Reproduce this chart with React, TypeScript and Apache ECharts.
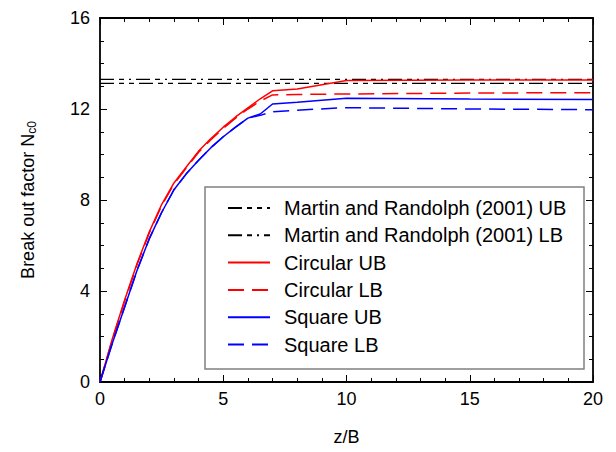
import React, { useEffect, useRef } from "react";
import * as echarts from "echarts";

const zB = [0, 0.5, 1, 1.5, 2, 2.5, 3, 3.5, 4, 4.5, 5, 5.5, 6, 6.5, 7, 8, 10, 15, 20];
const circularUB = [0, 1.9, 3.6, 5.2, 6.6, 7.8, 8.75, 9.45, 10.15, 10.7, 11.2, 11.65, 12.05, 12.45, 12.8, 12.88, 13.25, 13.27, 13.28];
const circularLB = [0, 1.85, 3.55, 5.15, 6.55, 7.75, 8.7, 9.4, 10.1, 10.65, 11.15, 11.6, 12.0, 12.35, 12.62, 12.64, 12.66, 12.7, 12.72];
const squareUB = [0, 1.7, 3.3, 4.9, 6.3, 7.45, 8.45, 9.15, 9.75, 10.3, 10.78, 11.2, 11.6, 11.78, 12.22, 12.3, 12.47, 12.44, 12.42];
const squareLB = [0, 1.7, 3.3, 4.9, 6.3, 7.45, 8.45, 9.15, 9.75, 10.3, 10.78, 11.2, 11.6, 11.72, 11.88, 11.95, 12.06, 12.0, 11.97];
const martinRange = [0, 20];
const martinUB = 13.13;
const martinLB = 13.3;
const seriesNames = [
  "Martin and Randolph (2001) UB",
  "Martin and Randolph (2001) LB",
  "Circular UB",
  "Circular LB",
  "Square UB",
  "Square LB",
];

const FONT = "'Liberation Sans', Arial, Helvetica, sans-serif";

export default function App() {
  const ref = useRef<HTMLDivElement>(null);
  useEffect(() => {
    if (!ref.current) return;
    const chart = echarts.init(ref.current, undefined, { renderer: "svg" });
    const pair = (ys: number[]) => zB.map((x, i) => [x, ys[i]]);
    const axisCommon = {
      axisLine: { show: true, onZero: false, lineStyle: { color: "#000", width: 1.8 } },
      axisTick: { show: true, inside: true, length: 7, lineStyle: { color: "#000", width: 1 } },
      minorTick: { show: true, length: 4, lineStyle: { color: "#000", width: 1 } },
      splitLine: { show: false },
    };
    chart.setOption({
      animation: false,
      backgroundColor: "#fff",
      textStyle: { fontFamily: FONT },
      grid: { left: 100, right: 23, top: 18, bottom: 70 },
      graphic: [
        {
          type: "rect",
          z: 3,
          shape: { x: 205, y: 187, width: 379, height: 182 },
          style: { fill: "#fff", stroke: "#808080", lineWidth: 1.5 },
        },
      ],
      legend: {
        orient: "vertical",
        left: 205,
        top: 187,
        z: 10,
        padding: [11, 0, 0, 22],
        itemWidth: 42,
        itemHeight: 14,
        itemGap: 7.3,
        data: seriesNames,
        itemStyle: { color: "rgba(0,0,0,0)", borderColor: "rgba(0,0,0,0)", borderWidth: 0 },
        textStyle: { fontFamily: FONT, fontSize: 20, color: "#000", lineHeight: 20, padding: [0, 0, 0, 9] },
      },
      xAxis: [
        {
          type: "value",
          min: 0,
          max: 20,
          interval: 5,
          minorTick: { ...axisCommon.minorTick, splitNumber: 5 },
          axisLine: axisCommon.axisLine,
          axisTick: axisCommon.axisTick,
          splitLine: axisCommon.splitLine,
          axisLabel: { color: "#000", fontSize: 18, fontFamily: FONT, margin: 8 },
          name: "z/B",
          nameLocation: "middle",
          nameGap: 46,
          nameTextStyle: { color: "#000", fontSize: 18, fontFamily: FONT },
        },
        {
          type: "value",
          position: "top",
          min: 0,
          max: 20,
          interval: 5,
          minorTick: { ...axisCommon.minorTick, splitNumber: 5 },
          axisLine: axisCommon.axisLine,
          axisTick: axisCommon.axisTick,
          splitLine: axisCommon.splitLine,
          axisLabel: { show: false },
        },
      ],
      yAxis: [
        {
          type: "value",
          min: 0,
          max: 16,
          interval: 4,
          minorTick: { ...axisCommon.minorTick, splitNumber: 4 },
          axisLine: axisCommon.axisLine,
          axisTick: axisCommon.axisTick,
          splitLine: axisCommon.splitLine,
          axisLabel: { color: "#000", fontSize: 18, fontFamily: FONT, margin: 10 },
          name: "Break out factor N{sub|c0}",
          nameLocation: "middle",
          nameRotate: 90,
          nameGap: 62,
          nameTextStyle: {
            color: "#000",
            fontSize: 18,
            fontFamily: FONT,
            rich: {
              sub: { fontSize: 12, fontFamily: FONT, color: "#000", padding: [8, 0, 0, 0] },
            },
          },
        },
        {
          type: "value",
          position: "right",
          min: 0,
          max: 16,
          interval: 4,
          minorTick: { ...axisCommon.minorTick, splitNumber: 4 },
          axisLine: axisCommon.axisLine,
          axisTick: axisCommon.axisTick,
          splitLine: axisCommon.splitLine,
          axisLabel: { show: false },
        },
      ],
      series: [
        {
          name: seriesNames[0],
          type: "line",
          symbol: "none",
          data: martinRange.map((x) => [x, martinUB]),
          lineStyle: { color: "#000", width: 1.3, type: [14, 5, 5, 5, 5, 5] },
          itemStyle: { color: "#000" },
          z: 2,
        },
        {
          name: seriesNames[1],
          type: "line",
          symbol: "none",
          data: martinRange.map((x) => [x, martinLB]),
          lineStyle: { color: "#000", width: 1.3, type: [14, 5, 5, 5, 2, 5] },
          itemStyle: { color: "#000" },
          z: 2,
        },
        {
          name: seriesNames[2],
          type: "line",
          symbol: "none",
          data: pair(circularUB),
          lineStyle: { color: "#ff0000", width: 1.5, type: "solid" },
          itemStyle: { color: "#ff0000" },
          z: 2,
        },
        {
          name: seriesNames[3],
          type: "line",
          symbol: "none",
          data: pair(circularLB),
          lineStyle: { color: "#ff0000", width: 1.5, type: [16, 8] },
          itemStyle: { color: "#ff0000" },
          z: 2,
        },
        {
          name: seriesNames[4],
          type: "line",
          symbol: "none",
          data: pair(squareUB),
          lineStyle: { color: "#0000ff", width: 1.5, type: "solid" },
          itemStyle: { color: "#0000ff" },
          z: 2,
        },
        {
          name: seriesNames[5],
          type: "line",
          symbol: "none",
          data: pair(squareLB),
          lineStyle: { color: "#0000ff", width: 1.5, type: [16, 8] },
          itemStyle: { color: "#0000ff" },
          z: 2,
        },
      ],
    });
    return () => chart.dispose();
  }, []);
  return <div ref={ref} style={{ width: 616, height: 452, position: "absolute", left: 0, top: 0 }} />;
}
